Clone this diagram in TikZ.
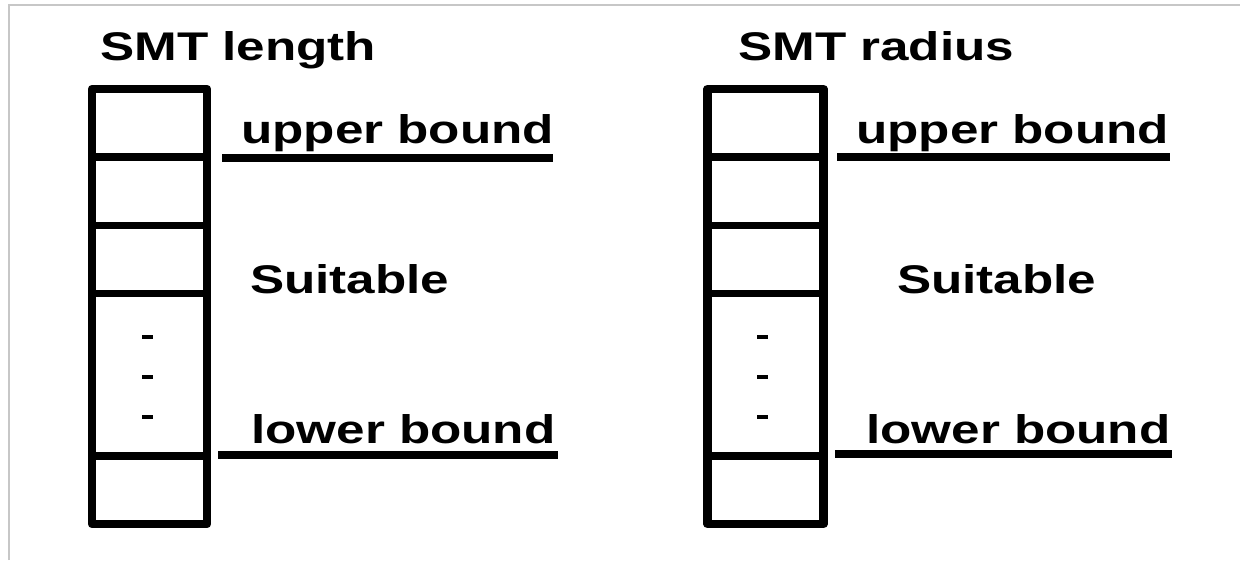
\documentclass[tikz,border=0pt]{standalone}
\usepackage{fontspec}
\setmainfont{Liberation Sans}
\begin{document}
\begin{tikzpicture}[x=1pt,y=-1pt,
  lbl/.style={inner sep=0pt,anchor=base west,font=\fontsize{40}{44}\selectfont\bfseries},
  boxline/.style={line width=8.5pt,line join=round},
  divline/.style={line width=7.5pt},
  boundline/.style={line width=7.5pt},
  dotmark/.style={line width=4.5pt},
  frameline/.style={draw=black!22,line width=1.2pt}]
\useasboundingbox (0,0) rectangle (1240,560);
\fill[white] (0,0) rectangle (1240,560);
\draw[frameline] (9,560) -- (9,5) -- (1240,5);
% left column
\draw[boxline] (92,89) rectangle (207,524);
\foreach \yy in {157,225.5,293.5,456} \draw[divline] (92,\yy) -- (207,\yy);
\foreach \yy in {337,377,417} \draw[dotmark] (142,\yy) -- (153,\yy);
\node[lbl] (t1) at (100,60) {\scalebox{1.28}[1]{SMT length}};
\node[lbl] (u1) at (241,143) {\scalebox{1.28}[1]{upper bound}};
\node[lbl] (s1) at (250,293) {\scalebox{1.28}[1]{Suitable}};
\node[lbl] (l1) at (251,443) {\scalebox{1.28}[1]{lower bound}};
\draw[boundline] (222,158) -- (553,158);
\draw[boundline] (218,455) -- (558,455);
% right column
\draw[boxline] (707.5,89) rectangle (823.5,524);
\foreach \yy in {157,225.5,293.5,456} \draw[divline] (707.5,\yy) -- (823.5,\yy);
\foreach \yy in {337,377,417} \draw[dotmark] (757,\yy) -- (768,\yy);
\node[lbl] (t2) at (738,60) {\scalebox{1.28}[1]{SMT radius}};
\node[lbl] (u2) at (856,143) {\scalebox{1.28}[1]{upper bound}};
\node[lbl] (s2) at (897,293) {\scalebox{1.28}[1]{Suitable}};
\node[lbl] (l2) at (866,443) {\scalebox{1.28}[1]{lower bound}};
\draw[boundline] (837,157) -- (1170,157);
\draw[boundline] (835,454) -- (1172,454);
\end{tikzpicture}
\end{document}
